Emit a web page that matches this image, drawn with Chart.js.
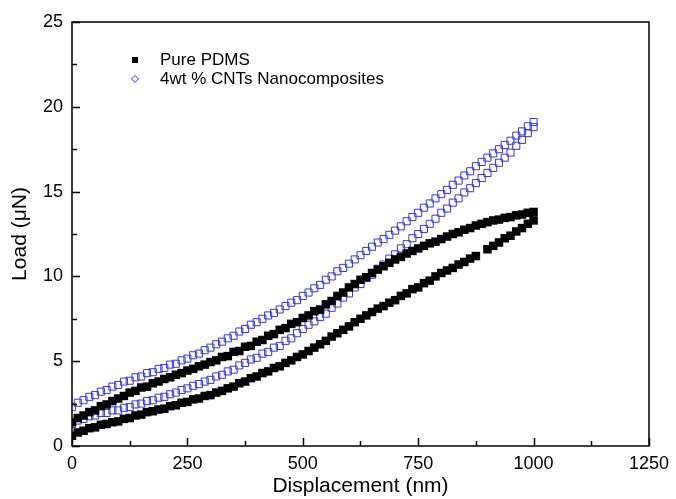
<!DOCTYPE html>
<html lang="en">
<head>
  <meta charset="UTF-8" />
  <title>load vs displacement</title>
  <script src="https://cdn.jsdelivr.net/npm/chart.js@4.4.1/dist/chart.umd.min.js"></script>
  <style>
    body { margin: 0; background: #fff; }
  </style>
</head>
<body>
  <canvas id="myChart" width="676" height="499"></canvas>

  <script>
    // displacement (nm), same grid for loading and unloading branches
    const disp = [0, 12.5, 25, 37.5, 50, 62.5, 75, 87.5, 100,
      112.5, 125, 137.5, 150, 162.5, 175, 187.5, 200,
      212.5, 225, 237.5, 250, 262.5, 275, 287.5, 300,
      312.5, 325, 337.5, 350, 362.5, 375, 387.5, 400,
      412.5, 425, 437.5, 450, 462.5, 475, 487.5, 500,
      512.5, 525, 537.5, 550, 562.5, 575, 587.5, 600,
      612.5, 625, 637.5, 650, 662.5, 675, 687.5, 700,
      712.5, 725, 737.5, 750, 762.5, 775, 787.5, 800,
      812.5, 825, 837.5, 850, 862.5, 875, 887.5, 900,
      912.5, 925, 937.5, 950, 962.5, 975, 987.5, 1000];

    // Pure PDMS, load (uN)
    const pdmsUpper = [1.4, 1.65, 1.8, 2.0, 2.1, 2.35, 2.45, 2.65, 2.8,
      2.95, 3.15, 3.25, 3.45, 3.5, 3.7, 3.8, 3.95,
      4.05, 4.2, 4.3, 4.45, 4.55, 4.7, 4.8, 4.95,
      5.05, 5.25, 5.3, 5.55, 5.6, 5.85, 5.9, 6.15,
      6.25, 6.5, 6.6, 6.85, 6.95, 7.2, 7.3, 7.55,
      7.7, 7.95, 8.05, 8.35, 8.55, 8.85, 9.05, 9.35,
      9.55, 9.8, 9.95, 10.2, 10.4, 10.6, 10.8, 11.0,
      11.15, 11.35, 11.5, 11.65, 11.8, 11.95, 12.05, 12.2,
      12.35, 12.5, 12.6, 12.75, 12.85, 13.0, 13.1, 13.2,
      13.3, 13.35, 13.45, 13.5, 13.6, 13.65, 13.75, 13.8];
    const pdmsLower = [0.6, 0.8, 0.9, 1.05, 1.1, 1.25, 1.3, 1.4, 1.45,
      1.6, 1.65, 1.8, 1.85, 2.0, 2.05, 2.15, 2.2,
      2.35, 2.4, 2.55, 2.6, 2.75, 2.8, 2.95, 3.0,
      3.15, 3.25, 3.4, 3.5, 3.7, 3.8, 4.0, 4.1,
      4.3, 4.4, 4.6, 4.7, 4.9, 5.05, 5.25, 5.4,
      5.6, 5.8, 6.0, 6.2, 6.45, 6.65, 6.85, 7.05,
      7.3, 7.5, 7.7, 7.9, 8.1, 8.25, 8.45, 8.6,
      8.85, 9.0, 9.25, 9.35, 9.6, 9.75, 10.0, 10.2,
      10.35, 10.5, 10.7, 10.85, 11.05, 11.2, null, 11.6,
      11.8, 12.0, 12.25, 12.4, 12.65, 12.85, 13.1, 13.3];

    // 4wt % CNTs nanocomposites, load (uN)
    const cntUpper = [2.3, 2.55, 2.7, 2.9, 3.0, 3.2, 3.3, 3.5, 3.6,
      3.8, 3.85, 4.05, 4.1, 4.3, 4.35, 4.55, 4.6,
      4.8, 4.85, 5.05, 5.15, 5.35, 5.45, 5.65, 5.8,
      6.0, 6.15, 6.35, 6.5, 6.75, 6.9, 7.15, 7.3,
      7.5, 7.7, 7.85, 8.05, 8.25, 8.45, 8.6, 8.85,
      9.05, 9.3, 9.5, 9.8, 10.0, 10.3, 10.5, 10.75,
      11.0, 11.25, 11.5, 11.75, 12.0, 12.2, 12.45, 12.7,
      12.95, 13.25, 13.5, 13.75, 14.05, 14.3, 14.6, 14.85,
      15.1, 15.4, 15.65, 15.95, 16.2, 16.5, 16.75, 17.0,
      17.25, 17.5, 17.75, 18.0, 18.3, 18.55, 18.85, 19.1];
    const cntLower = [1.3, 1.5, 1.6, 1.75, 1.8, 1.95, 1.95, 2.1, 2.1,
      2.25, 2.3, 2.45, 2.5, 2.65, 2.7, 2.85, 2.9,
      3.05, 3.15, 3.3, 3.4, 3.55, 3.65, 3.8, 3.9,
      4.1, 4.2, 4.4, 4.5, 4.75, 4.9, 5.1, 5.2,
      5.45, 5.55, 5.8, 5.9, 6.2, 6.35, 6.65, 6.9,
      7.15, 7.35, 7.6, 7.8, 8.15, 8.4, 8.75, 9.0,
      9.35, 9.55, 9.9, 10.1, 10.45, 10.7, 11.05, 11.3,
      11.65, 11.9, 12.25, 12.5, 12.8, 13.1, 13.4, 13.75,
      14.0, 14.35, 14.6, 14.95, 15.2, 15.5, 15.8, 16.1,
      16.4, 16.7, 17.0, 17.3, 17.7, 18.05, 18.45, 18.8];

    // tick marks (labelled every 250 / 5, unlabelled in between)
    const xTickValues = [0, 125, 250, 375, 500, 625, 750, 875, 1000, 1125, 1250];
    const yTickValues = [0, 2.5, 5, 7.5, 10, 12.5, 15, 17.5, 20, 22.5, 25];

    const seriesNames = ['Pure PDMS', '4wt % CNTs Nanocomposites'];
    const blue = '#3535e6';

    function loop(upper, lower) {
      const pts = disp.map((d, i) => ({ x: d, y: upper[i] }));
      for (let i = disp.length - 1; i >= 0; i--) pts.push({ x: disp[i], y: lower[i] });
      return pts;
    }

    // frame, inward ticks and the legend inside the plot
    const frame = {
      id: 'frame',
      afterDraw(chart) {
        const { ctx, chartArea: a, scales: { x, y } } = chart;
        ctx.save();
        ctx.strokeStyle = '#000';
        ctx.lineWidth = 1.5;
        ctx.strokeRect(a.left, a.top, a.right - a.left, a.bottom - a.top);
        ctx.beginPath();
        xTickValues.forEach(v => {
          const px = Math.round(x.getPixelForValue(v)) + 0.5;
          const len = v % 250 === 0 ? 8 : 5;
          ctx.moveTo(px, a.bottom);
          ctx.lineTo(px, a.bottom - len);
        });
        yTickValues.forEach(v => {
          const py = Math.round(y.getPixelForValue(v)) + 0.5;
          const len = v % 5 === 0 ? 8 : 5;
          ctx.moveTo(a.left, py);
          ctx.lineTo(a.left + len, py);
        });
        ctx.stroke();

        // legend
        const lx = a.left + 63, ly = a.top + 38;
        ctx.fillStyle = '#000';
        ctx.fillRect(lx - 3, ly - 3, 6, 6);
        ctx.strokeStyle = blue;
        ctx.lineWidth = 1;
        ctx.beginPath();
        ctx.moveTo(lx, ly + 19 - 3.5);
        ctx.lineTo(lx + 3.5, ly + 19);
        ctx.lineTo(lx, ly + 19 + 3.5);
        ctx.lineTo(lx - 3.5, ly + 19);
        ctx.closePath();
        ctx.stroke();
        ctx.font = '17px "Liberation Sans", Arial, sans-serif';
        ctx.textBaseline = 'middle';
        ctx.fillStyle = '#000';
        ctx.fillText(seriesNames[0], lx + 25, ly);
        ctx.fillText(seriesNames[1], lx + 25, ly + 19);
        ctx.restore();
      }
    };

    Chart.defaults.font.family = '"Liberation Sans", Arial, sans-serif';
    Chart.defaults.color = '#000';

    const ctx = document.getElementById('myChart').getContext('2d');
    const myChart = new Chart(ctx, {
      type: 'scatter',
      data: {
        datasets: [
          {
            label: seriesNames[0],
            data: loop(pdmsUpper, pdmsLower),
            pointStyle: 'rect',
            pointRadius: 6,
            backgroundColor: '#000',
            borderColor: '#000',
            borderWidth: 0
          },
          {
            label: seriesNames[1],
            data: loop(cntUpper, cntLower),
            pointStyle: 'rect',
            pointRadius: 5,
            backgroundColor: 'rgba(255,255,255,0)',
            borderColor: blue,
            borderWidth: 1
          }
        ]
      },
      options: {
        responsive: false,
        animation: false,
        layout: { padding: { top: 22, right: 24, bottom: 0, left: 0 } },
        plugins: {
          legend: { display: false },
          tooltip: { enabled: false }
        },
        scales: {
          x: {
            type: 'linear',
            min: 0,
            max: 1250,
            afterFit: s => { s.height = 53; },
            grid: { display: false, drawTicks: false },
            border: { display: false },
            ticks: {
              stepSize: 250, padding: 7, maxRotation: 0, font: { size: 18 },
              callback: v => String(v)
            },
            title: {
              display: true,
              text: 'Displacement (nm)',
              font: { size: 21 },
              padding: { top: 0, bottom: 0 }
            }
          },
          y: {
            type: 'linear',
            min: 0,
            max: 25,
            afterFit: s => { s.width = 72; },
            grid: { display: false, drawTicks: false },
            border: { display: false },
            ticks: { stepSize: 5, padding: 9, font: { size: 18 }, callback: v => String(v) },
            title: {
              display: true,
              text: 'Load (μN)',
              font: { size: 21 },
              padding: { top: 8, bottom: 0 }
            }
          }
        }
      },
      plugins: [frame]
    });
  </script>
</body>
</html>
